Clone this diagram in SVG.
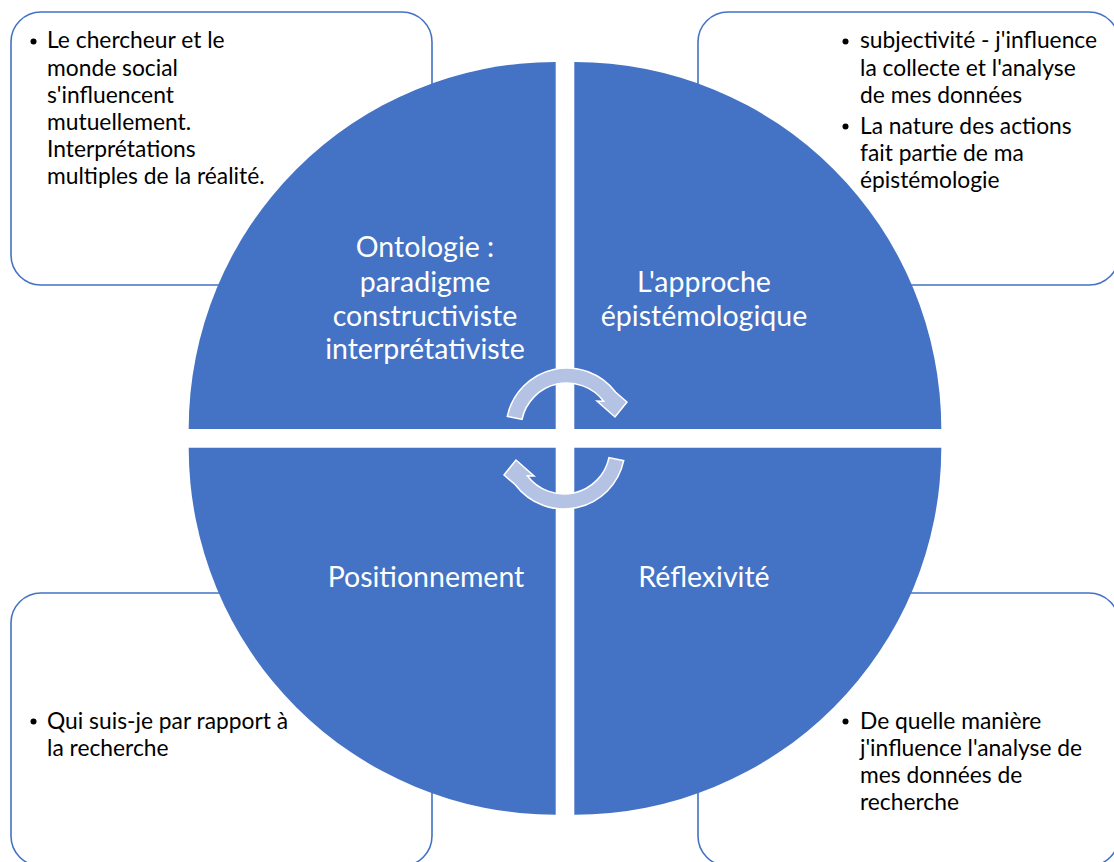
<svg xmlns="http://www.w3.org/2000/svg" width="1114" height="862" viewBox="0 0 1114 862">
<style>
.box{fill:#FFFFFF;stroke:#4472C4;stroke-width:1.6}
.quad{fill:#4472C4}
.qt{font-family:Lato,"Open Sans",sans-serif;font-size:28.5px;fill:#FFFFFF;text-anchor:middle}
.bt{font-family:Lato,"Open Sans",sans-serif;font-size:22.8px;fill:#000000}
.arrow{fill:#B4C2E3;stroke:#FFFFFF;stroke-width:1.5}
</style>
<rect width="1114" height="862" fill="#FFFFFF"/>
<g id="box-tl"><rect class="box" x="11" y="12" width="421" height="273" rx="30"/>
<circle cx="33.5" cy="41.5" r="3"/>
<text class="bt" x="47"><tspan x="47" y="48">Le chercheur et le</tspan><tspan x="47" y="75.5">monde social</tspan><tspan x="47" y="102.5">s'influencent</tspan><tspan x="47" y="130">mutuellement.</tspan><tspan x="47" y="157">Interprétations</tspan><tspan x="47" y="184">multiples de la réalité.</tspan></text></g>
<g id="box-tr"><rect class="box" x="698" y="12" width="421" height="273" rx="30"/>
<circle cx="845.5" cy="41.5" r="3"/>
<circle cx="845.5" cy="126.5" r="3"/>
<text class="bt"><tspan x="860" y="48">subjectivité - j'influence</tspan><tspan x="860" y="76">la collecte et l'analyse</tspan><tspan x="860" y="103">de mes données</tspan><tspan x="860" y="133.5">La nature des actions</tspan><tspan x="860" y="160.5">fait partie de ma</tspan><tspan x="860" y="188">épistémologie</tspan></text></g>
<g id="box-bl"><rect class="box" x="11" y="593" width="421" height="273" rx="30"/>
<circle cx="33.5" cy="721.5" r="3"/>
<text class="bt"><tspan x="47" y="728.5">Qui suis-je par rapport à</tspan><tspan x="47" y="755.5">la recherche</tspan></text></g>
<g id="box-br"><rect class="box" x="698" y="593" width="421" height="273" rx="30"/>
<circle cx="845.5" cy="721.5" r="3"/>
<text class="bt"><tspan x="860" y="728.5">De quelle manière</tspan><tspan x="860" y="755.5">j'influence l'analyse de</tspan><tspan x="860" y="782.5">mes données de</tspan><tspan x="860" y="810">recherche</tspan></text></g>
<g id="quad-ontologie"><path class="quad" d="M555.7,429 L188.7,429 A367,367 0 0 1 555.7,62 Z"/>
<text class="qt"><tspan x="425" y="257">Ontologie :</tspan><tspan x="425" y="291.5">paradigme</tspan><tspan x="425" y="325.5">constructiviste</tspan><tspan x="425" y="358.5">interprétativiste</tspan></text></g>
<g id="quad-epistemologie"><path class="quad" d="M574.3,429 L574.3,62 A367,367 0 0 1 941.3,429 Z"/>
<text class="qt"><tspan x="704" y="291.5">L'approche</tspan><tspan x="704" y="325.5">épistémologique</tspan></text></g>
<g id="quad-positionnement"><path class="quad" d="M555.7,447.7 L555.7,814.7 A367,367 0 0 1 188.7,447.7 Z"/>
<text class="qt" x="426" y="587">Positionnement</text></g>
<g id="quad-reflexivite"><path class="quad" d="M574.3,447.7 L941.3,447.7 A367,367 0 0 1 574.3,814.7 Z"/>
<text class="qt" x="704" y="587">Réflexivité</text></g>
<g id="connectors">
<path id="arrow-top" class="arrow" d="M507.3,416.3 A61,61 0 0 1 615.7,392.3 L627,402 L615,417 L597,401 L603.7,401.3 A46,46 0 0 0 522,419.4 Z"/>
<path id="arrow-bottom" class="arrow" transform="rotate(180 565.5 438.5)" d="M507.3,416.3 A61,61 0 0 1 615.7,392.3 L627,402 L615,417 L597,401 L603.7,401.3 A46,46 0 0 0 522,419.4 Z"/>
</g>
</svg>
